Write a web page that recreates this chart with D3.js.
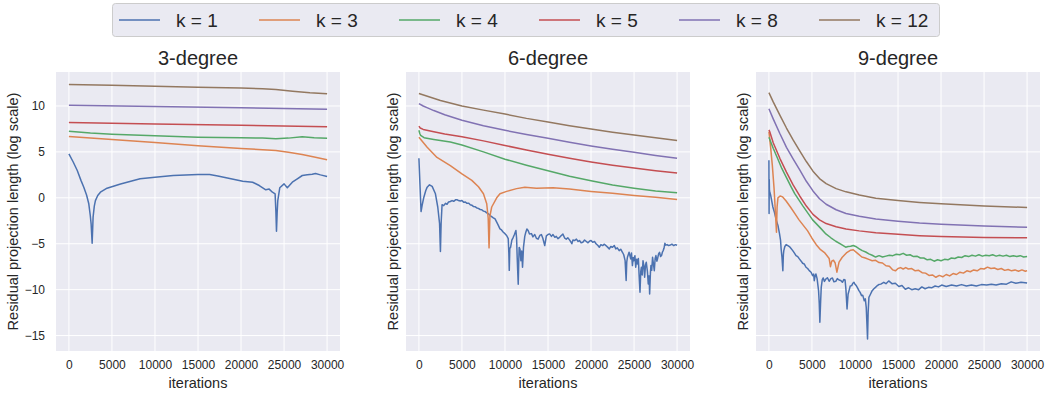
<!DOCTYPE html>
<meta charset="utf-8">
<style>
  body { margin: 0; background: #fff; }
  text { font-family: "Liberation Sans", Arial, sans-serif; fill: #262626; }
</style>
<div id="chart"></div>
<script src="https://d3js.org/d3.v7.min.js"></script>
<script>
// legend / series names and seaborn "deep" colours
var keys = ["k = 1", "k = 3", "k = 4", "k = 5", "k = 8", "k = 12"];
var colors = ["#4C72B0", "#DD8452", "#55A868", "#C44E52", "#8172B3", "#937860"];
var titles = ["3-degree", "6-degree", "9-degree"];
var xTicks = [0, 5000, 10000, 15000, 20000, 25000, 30000];
var yTicks = [-15, -10, -5, 0, 5, 10];

// ---- 3-degree : [iteration, value]
var deg3_k1 = [[0,4.79],[500,3.9],[970,2.97],[1400,1.9],[1730,1.15],[2050,0.3],[2310,-0.65],[2480,-1.9],[2580,-2.83],[2700,-4.94],[2810,-2.1],[2950,-0.9],[3080,-0.3],[3350,0.25],[3660,0.61],[4430,1.05],[6000,1.5],[8270,2.07],[10000,2.25],[12120,2.43],[15000,2.54],[16350,2.53],[17300,2.38],[18270,2.18],[20200,1.81],[21350,1.7],[22120,1.34],[22880,0.87],[23270,0.95],[23650,0.61],[23960,0.43],[24050,-1.5],[24120,-3.63],[24200,-1.6],[24270,-0.3],[24500,1.09],[25000,1.52],[25380,1.09],[25960,1.7],[26540,2.07],[27120,2.43],[27700,2.5],[28270,2.57],[28650,2.65],[29230,2.5],[30000,2.32]];
var deg3_k3 = [[0,6.67],[5000,6.35],[10000,6.02],[15000,5.66],[20000,5.38],[24050,5.15],[25500,4.95],[27100,4.71],[28500,4.45],[30000,4.14]];
var deg3_k4 = [[0,7.25],[2500,7.05],[5000,6.92],[10000,6.75],[15000,6.6],[20000,6.55],[22500,6.5],[24050,6.42],[25500,6.5],[27100,6.64],[28500,6.55],[30000,6.49]];
var deg3_k5 = [[0,8.2],[10000,8.05],[20000,7.9],[30000,7.73]];
var deg3_k8 = [[0,10.08],[10000,9.93],[20000,9.8],[30000,9.65]];
var deg3_k12 = [[0,12.34],[5000,12.25],[10000,12.15],[15000,12.05],[20000,11.95],[22500,11.88],[24050,11.79],[26000,11.6],[28000,11.43],[30000,11.32]];

// ---- 6-degree
var deg6_k1 = [[0,4.3],[100,2.0],[250,-1.5],[400,-0.7],[575,0.07],[800,0.8],[960,1.16],[1230,1.42],[1540,1.24],[1920,0.44],[2190,-1.0],[2400,-2.8],[2500,-5.85],[2580,-2.8],[2690,-0.75],[2880,-0.85],[3100,-0.6],[3270,-0.7],[3450,-0.45],[3650,-0.4],[3850,-0.3],[4040,-0.38],[4250,-0.22],[4420,-0.2],[4600,-0.3],[4810,-0.35],[5000,-0.3],[5190,-0.47],[5400,-0.45],[5580,-0.6],[5800,-0.6],[5960,-0.75],[6150,-0.8],[6350,-0.95],[6550,-0.98],[6730,-1.1],[6900,-1.15],[7120,-1.27],[7300,-1.3],[7500,-1.45],[7700,-1.5],[7880,-1.64],[8100,-1.75],[8270,-1.93],[8450,-2.05],[8650,-2.18],[8850,-2.3],[9040,-2.65],[9200,-2.95],[9420,-3.38],[9600,-3.5],[9810,-3.75],[10000,-3.9],[10190,-4.1],[10380,-4.45],[10450,-6.0],[10500,-7.9],[10560,-5.5],[10650,-5.4],[10800,-4.6],[10960,-4.3],[11100,-4.0],[11270,-3.55],[11350,-4.4],[11420,-6.5],[11480,-8.0],[11540,-9.4],[11600,-7.0],[11650,-5.4],[11750,-5.6],[11850,-6.85],[11950,-5.8],[12040,-7.55],[12100,-6.5],[12150,-5.4],[12300,-4.2],[12420,-3.75],[12550,-3.4],[12690,-3.55],[12850,-3.95],[13080,-3.9],[13250,-4.25],[13460,-4.0],[13650,-4.4],[13850,-4.5],[14050,-4.1],[14230,-4.0],[14400,-4.4],[14620,-5.2],[14810,-4.15],[15000,-4.0],[15190,-3.93],[15400,-4.2],[15580,-4.0],[15800,-4.3],[15960,-4.2],[16150,-4.45],[16350,-4.3],[16550,-4.1],[16730,-3.95],[16950,-4.4],[17120,-4.5],[17300,-4.35],[17500,-4.58],[17650,-4.8],[17770,-5.0],[17900,-4.6],[18080,-4.65],[18300,-4.5],[18500,-4.75],[18660,-4.65],[18850,-4.9],[19040,-4.84],[19250,-4.6],[19420,-4.73],[19650,-4.9],[19850,-4.7],[20000,-4.65],[20200,-4.85],[20400,-4.75],[20580,-5.0],[20800,-5.2],[20960,-5.38],[21150,-5.1],[21350,-5.2],[21550,-5.05],[21730,-5.2],[21950,-5.4],[22120,-5.56],[22300,-5.3],[22500,-5.38],[22700,-5.2],[22880,-5.56],[23050,-5.45],[23270,-5.75],[23450,-5.6],[23650,-5.93],[23800,-6.2],[23960,-6.84],[24080,-9.0],[24150,-7.0],[24230,-6.47],[24420,-5.93],[24610,-6.65],[24700,-6.0],[24810,-7.38],[24900,-6.5],[25000,-6.84],[25100,-6.3],[25190,-7.56],[25300,-6.7],[25380,-7.2],[25500,-6.6],[25580,-8.29],[25690,-10.29],[25780,-8.0],[25850,-7.56],[25950,-8.4],[26040,-6.84],[26150,-7.5],[26230,-8.65],[26330,-7.3],[26420,-7.02],[26550,-8.0],[26650,-9.38],[26750,-8.5],[26810,-10.47],[26900,-8.2],[26960,-7.38],[27050,-7.9],[27150,-6.47],[27250,-7.2],[27350,-7.93],[27450,-6.6],[27540,-6.29],[27650,-6.9],[27730,-6.65],[27850,-6.1],[27960,-5.93],[28080,-6.4],[28190,-6.29],[28300,-5.9],[28380,-5.75],[28480,-5.5],[28580,-4.95],[28700,-5.15],[28840,-5.09],[29000,-5.2],[29230,-5.13],[29400,-5.05],[29610,-5.2],[29800,-5.1],[30000,-5.16]];
var deg6_k3 = [[0,6.6],[960,5.5],[2100,4.4],[3650,3.5],[5000,2.6],[6150,1.9],[6920,1.2],[7500,0.44],[7880,-0.65],[8050,-2.2],[8150,-5.45],[8250,-2.0],[8460,-1.0],[9040,0.0],[9420,0.44],[10190,0.7],[11350,1.0],[12310,1.16],[13650,1.05],[15580,1.1],[17500,0.95],[20000,0.7],[22500,0.5],[25000,0.25],[27500,0.05],[30000,-0.18]];
var deg6_k4 = [[0,7.35],[100,7.0],[200,6.8],[600,6.55],[1730,6.36],[3650,6.07],[5000,5.75],[7500,5.0],[10000,4.2],[12500,3.55],[15000,2.95],[17500,2.35],[20000,1.85],[22500,1.4],[25000,1.05],[27500,0.75],[30000,0.55]];
var deg6_k5 = [[0,7.8],[150,7.6],[500,7.45],[1730,7.2],[3000,6.95],[5000,6.65],[7500,6.2],[10000,5.7],[12500,5.2],[15000,4.75],[17500,4.3],[20000,3.9],[22500,3.55],[25000,3.25],[27500,2.95],[30000,2.7]];
var deg6_k8 = [[0,10.25],[500,10.0],[1000,9.8],[1730,9.5],[3000,9.05],[5000,8.44],[7500,7.85],[10000,7.35],[12500,6.9],[15000,6.48],[17500,6.05],[20000,5.65],[22500,5.3],[25000,4.95],[27500,4.6],[30000,4.3]];
var deg6_k12 = [[0,11.35],[2500,10.6],[5000,10.0],[7500,9.55],[10000,9.12],[12500,8.65],[15000,8.25],[17500,7.85],[20000,7.5],[22500,7.15],[25000,6.85],[27500,6.55],[30000,6.25]];

// ---- 9-degree
var deg9_k1 = [[0,4.1],[20,-1.7],[40,2.0],[60,0.9],[100,0.6],[200,0.3],[300,-0.2],[460,-1.0],[650,-1.6],[850,-2.4],[1050,-3.0],[1230,-3.9],[1350,-4.6],[1420,-5.56],[1520,-6.5],[1620,-7.93],[1680,-6.2],[1730,-5.75],[1850,-5.3],[2000,-5.09],[2200,-5.2],[2380,-5.31],[2550,-5.5],[2770,-5.75],[2950,-6.0],[3150,-6.29],[3350,-6.4],[3540,-6.65],[3750,-6.9],[3920,-7.13],[4100,-7.2],[4310,-7.56],[4500,-7.7],[4690,-7.93],[4900,-8.1],[5080,-8.47],[5200,-8.3],[5270,-9.02],[5350,-8.6],[5460,-8.29],[5600,-8.8],[5770,-10.11],[5850,-11.5],[5920,-13.56],[6000,-11.5],[6080,-9.75],[6200,-8.9],[6310,-8.73],[6450,-9.1],[6620,-8.84],[6800,-8.7],[7000,-9.09],[7200,-8.8],[7380,-8.73],[7550,-9.15],[7770,-9.09],[7950,-8.8],[8150,-8.95],[8350,-9.0],[8540,-9.2],[8700,-8.9],[8850,-8.95],[8950,-10.0],[9080,-12.11],[9200,-10.5],[9310,-10.11],[9450,-9.6],[9620,-9.56],[9750,-9.3],[9880,-9.2],[10000,-9.4],[10150,-9.56],[10300,-9.8],[10460,-10.11],[10600,-10.3],[10770,-10.65],[10900,-10.6],[11080,-11.2],[11200,-11.0],[11310,-11.93],[11380,-13.5],[11460,-15.38],[11530,-12.5],[11620,-10.84],[11800,-10.5],[12000,-10.11],[12200,-9.9],[12380,-9.75],[12550,-9.6],[12770,-9.45],[13000,-9.4],[13350,-9.2],[13600,-9.35],[13920,-9.05],[14300,-9.35],[14690,-9.3],[15100,-9.65],[15460,-9.55],[15850,-9.95],[16230,-9.8],[16600,-10.0],[17000,-9.9],[17400,-10.0],[17770,-9.7],[18150,-9.9],[18540,-9.75],[18900,-9.8],[19310,-9.6],[19700,-9.7],[20080,-9.5],[20600,-9.65],[21230,-9.5],[21800,-9.6],[22380,-9.45],[22950,-9.6],[23540,-9.5],[24100,-9.6],[24690,-9.45],[25300,-9.5],[25850,-9.4],[26400,-9.5],[27000,-9.35],[27600,-9.4],[28150,-9.15],[28700,-9.3],[29300,-9.2],[30000,-9.27]];
var deg9_k3 = [[0,7.2],[200,5.5],[400,3.5],[600,1.0],[750,-1.5],[880,-3.75],[950,-1.0],[1050,0.0],[1300,0.2],[1600,0.1],[2000,-0.35],[2500,-1.0],[3000,-1.7],[3500,-2.4],[4000,-3.0],[4500,-3.6],[5000,-4.4],[5500,-5.1],[6000,-5.65],[6500,-6.0],[7000,-6.6],[7150,-7.5],[7300,-6.9],[7500,-6.8],[7700,-7.1],[7900,-8.1],[8150,-7.0],[8500,-6.5],[9000,-6.0],[9500,-5.7],[9800,-5.65],[10300,-6.05],[10800,-6.45],[11200,-6.55],[11600,-6.7],[12000,-6.85],[12400,-6.8],[12800,-7.05],[13200,-7.1],[13600,-7.4],[14000,-7.45],[14400,-7.85],[14700,-7.95],[15000,-7.7],[15300,-7.6],[15600,-7.75],[15900,-7.6],[16200,-7.75],[16600,-7.7],[17000,-7.95],[17400,-7.9],[17800,-8.15],[18200,-8.2],[18600,-8.45],[19000,-8.4],[19400,-8.65],[19800,-8.45],[20200,-8.6],[20600,-8.35],[21000,-8.5],[21400,-8.25],[21800,-8.35],[22200,-8.1],[22600,-8.2],[23000,-7.95],[23400,-8.05],[23800,-7.85],[24200,-7.95],[24600,-7.7],[25000,-7.75],[25400,-7.55],[25800,-7.7],[26200,-7.65],[26600,-7.8],[27000,-7.7],[27400,-7.9],[27800,-7.8],[28200,-7.95],[28600,-7.85],[29000,-8.0],[29400,-7.85],[29800,-8.0],[30000,-7.93]];
var deg9_k4 = [[0,6.6],[500,5.4],[1000,4.3],[1500,3.2],[2040,2.2],[2580,1.2],[3000,0.45],[3920,-0.85],[5080,-2.4],[6000,-3.3],[6620,-3.93],[7200,-4.35],[7770,-4.73],[8350,-5.05],[8920,-5.38],[9200,-5.3],[9500,-5.27],[9800,-5.2],[10080,-5.3],[10500,-5.55],[10850,-5.75],[11250,-5.9],[11620,-6.1],[12000,-6.25],[12400,-6.45],[12800,-6.3],[13200,-6.45],[13600,-6.35],[14000,-6.25],[14400,-6.3],[14800,-6.15],[15200,-6.2],[15600,-6.05],[16000,-6.25],[16400,-6.2],[16800,-6.4],[17200,-6.35],[17600,-6.55],[18000,-6.55],[18400,-6.75],[18800,-6.7],[19200,-6.9],[19600,-6.75],[20000,-6.85],[20400,-6.7],[20800,-6.75],[21200,-6.55],[21600,-6.6],[22000,-6.45],[22400,-6.5],[22800,-6.3],[23200,-6.4],[23600,-6.25],[24000,-6.35],[24400,-6.2],[24800,-6.35],[25200,-6.25],[25600,-6.3],[26000,-6.2],[26400,-6.35],[26800,-6.25],[27200,-6.35],[27600,-6.25],[28000,-6.4],[28400,-6.3],[28800,-6.4],[29200,-6.3],[29600,-6.45],[30000,-6.4]];
var deg9_k5 = [[0,7.4],[100,7.2],[500,6.0],[1270,4.3],[2040,2.8],[2810,1.4],[3580,0.2],[4350,-0.9],[5120,-1.8],[5880,-2.4],[6650,-2.8],[7810,-3.15],[8960,-3.4],[10500,-3.6],[12420,-3.8],[15000,-3.98],[17500,-4.12],[20000,-4.22],[25000,-4.32],[30000,-4.36]];
var deg9_k8 = [[0,9.7],[500,8.6],[1270,7.0],[2040,5.5],[2810,4.25],[3580,3.05],[4350,1.8],[5120,0.75],[5880,-0.1],[6650,-0.7],[7810,-1.3],[8960,-1.7],[10500,-2.0],[12420,-2.3],[15000,-2.55],[17500,-2.75],[20000,-2.88],[25000,-3.08],[30000,-3.2]];
var deg9_k12 = [[0,11.45],[500,10.44],[1270,9.0],[2040,7.6],[2810,6.3],[3580,5.1],[4350,3.95],[5120,2.9],[5880,2.1],[6650,1.55],[7810,1.0],[8960,0.65],[10500,0.3],[12420,-0.05],[15000,-0.3],[17500,-0.5],[20000,-0.65],[25000,-0.88],[30000,-1.05]];

var panelSeries = [
  [deg3_k1, deg3_k3, deg3_k4, deg3_k5, deg3_k8, deg3_k12],
  [deg6_k1, deg6_k3, deg6_k4, deg6_k5, deg6_k8, deg6_k12],
  [deg9_k1, deg9_k3, deg9_k4, deg9_k5, deg9_k8, deg9_k12]
];

var width = 1047, height = 394;
var plotW = 284, plotTop = 72, plotBottom = 351;
var lefts = [56, 406, 756];

var svg = d3.select("#chart").append("svg")
  .attr("width", width).attr("height", height);

// shared y scale (sharey)
var y = d3.scaleLinear().domain([-16.68, 13.7]).range([plotBottom, plotTop]);

panelSeries.forEach(function(series, p) {
  var left = lefts[p];
  var x = d3.scaleLinear().domain([-1500, 31500]).range([left, left + plotW]);
  var g = svg.append("g");

  g.append("rect")
    .attr("x", left).attr("y", plotTop)
    .attr("width", plotW).attr("height", plotBottom - plotTop)
    .attr("fill", "#EAEAF2");

  // grid
  g.selectAll(".gx").data(xTicks).enter().append("line")
    .attr("x1", function(d) { return x(d); }).attr("x2", function(d) { return x(d); })
    .attr("y1", plotTop).attr("y2", plotBottom)
    .attr("stroke", "#fff").attr("stroke-width", 1);
  g.selectAll(".gy").data(yTicks).enter().append("line")
    .attr("x1", left).attr("x2", left + plotW)
    .attr("y1", function(d) { return y(d); }).attr("y2", function(d) { return y(d); })
    .attr("stroke", "#fff").attr("stroke-width", 1);

  // x axis tick labels
  var xa = g.append("g")
    .attr("transform", "translate(0," + plotBottom + ")")
    .call(d3.axisBottom(x).tickValues(xTicks).tickSize(0).tickPadding(9).tickFormat(d3.format("d")));
  xa.select(".domain").remove();
  xa.selectAll("text").style("font-size", "12px").attr("fill", "#262626");

  // y axis tick labels only on the first panel
  if (p === 0) {
    var ya = g.append("g")
      .attr("transform", "translate(" + left + ",0)")
      .call(d3.axisLeft(y).tickValues(yTicks).tickSize(0).tickPadding(11));
    ya.select(".domain").remove();
    ya.selectAll("text").style("font-size", "12px").attr("fill", "#262626");
  }

  var line = d3.line()
    .x(function(d) { return x(d[0]); })
    .y(function(d) { return y(d[1]); });

  g.selectAll(".series").data(series).enter().append("path")
    .attr("d", line)
    .attr("fill", "none")
    .attr("stroke", function(d, i) { return colors[i]; })
    .attr("stroke-width", 1.5)
    .attr("stroke-linejoin", "round");

  g.append("text")
    .attr("x", left + plotW / 2).attr("y", 65)
    .attr("text-anchor", "middle")
    .style("font-size", "20px")
    .text(titles[p]);

  g.append("text")
    .attr("x", left + plotW / 2).attr("y", 388)
    .attr("text-anchor", "middle")
    .style("font-size", "14.5px")
    .text("iterations");

  var lx = p === 0 ? 18 : left - 8;
  g.append("text")
    .attr("transform", "translate(" + lx + "," + ((plotTop + plotBottom) / 2) + ") rotate(-90)")
    .attr("text-anchor", "middle")
    .style("font-size", "14.5px")
    .text("Residual projection length (log scale)");
});

// legend
var leg = svg.append("g");
leg.append("rect")
  .attr("x", 112.5).attr("y", 3.5).attr("width", 827).attr("height", 33)
  .attr("rx", 3).attr("fill", "#EAEAF2").attr("stroke", "#cccccc");
var item = leg.selectAll(".item").data(keys).enter().append("g")
  .attr("transform", function(d, i) { return "translate(" + (119 + i * 140) + ",20)"; });
item.append("line")
  .attr("x1", 0).attr("x2", 41).attr("y1", 0).attr("y2", 0)
  .attr("stroke", function(d, i) { return colors[i]; })
  .attr("stroke-width", 1.5);
item.append("text")
  .attr("x", 57).attr("y", 7)
  .style("font-size", "19px")
  .text(function(d) { return d; });
</script>
